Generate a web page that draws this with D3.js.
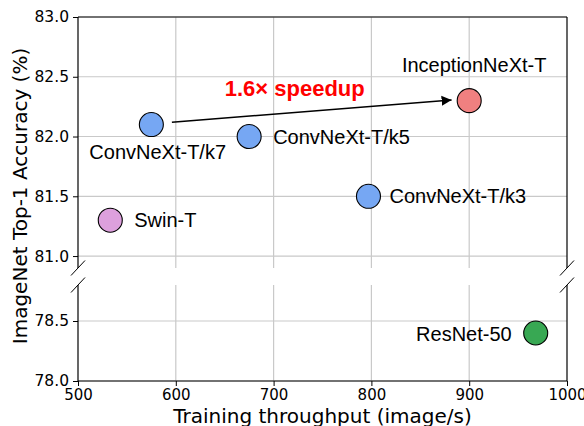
<!DOCTYPE html>
<html><head><meta charset="utf-8">
<script src="https://cdn.jsdelivr.net/npm/d3@7"></script>
<style>body{margin:0;background:#fff}svg{display:block}</style>
</head><body>
<svg id="c" width="584" height="426"></svg>
<script>
const models = ["ConvNeXt-T/k7","ConvNeXt-T/k5","ConvNeXt-T/k3","InceptionNeXt-T","Swin-T","ResNet-50"];
const throughput = [575, 675, 797, 900, 533, 968];
const accuracy = [82.1, 82.0, 81.5, 82.3, 81.3, 78.4];
const xTicks = [500, 600, 700, 800, 900, 1000];
const yTicksTop = [81.0, 81.5, 82.0, 82.5, 83.0];
const yTicksBottom = [78.0, 78.5];
const arrowFrom = [596, 82.12];
const arrowTo = [882, 82.305];
const speedupText = "1.6× speedup";
const speedupPos = [650, 82.34];

const colors = {"ConvNeXt-T/k7":"#76a7f3","ConvNeXt-T/k5":"#76a7f3","ConvNeXt-T/k3":"#76a7f3",
  "InceptionNeXt-T":"#f08080","Swin-T":"#dda0dd","ResNet-50":"#38a853"};
const labelPos = {
  "ConvNeXt-T/k7":{dx:-62,dy:34,anchor:"start"},
  "ConvNeXt-T/k5":{dx:24,dy:7,anchor:"start"},
  "ConvNeXt-T/k3":{dx:21,dy:7,anchor:"start"},
  "InceptionNeXt-T":{dx:5,dy:-29,anchor:"middle"},
  "Swin-T":{dx:24,dy:7,anchor:"start"},
  "ResNet-50":{dx:-24,dy:8,anchor:"end"}
};

const svg = d3.select("#c");
const L = 78, R = 567;
const x = d3.scaleLinear().domain([500,1000]).range([L,R]);
const yTop = d3.scaleLinear().domain([80.9,83.0]).range([268,17]);
const yBot = d3.scaleLinear().domain([78.0,78.8]).range([381,285]);
const tickFont = "DejaVu Sans", tickSize = "15px";
const gridColor = "#c9c9c9";

function panel(y, yTicks, y0, y1, showX){
  const g = svg.append("g");
  g.selectAll(".vg").data(xTicks.slice(1,-1)).enter().append("line")
    .attr("x1",d=>x(d)).attr("x2",d=>x(d)).attr("y1",y0).attr("y2",y1)
    .attr("stroke",gridColor).attr("stroke-width",1.2);
  g.selectAll(".hg").data(yTicks).enter().append("line")
    .attr("x1",L).attr("x2",R).attr("y1",d=>y(d)).attr("y2",d=>y(d))
    .attr("stroke",gridColor).attr("stroke-width",1.2);
  const ya = g.append("g").attr("transform",`translate(${L},0)`)
    .call(d3.axisLeft(y).tickValues(yTicks).tickFormat(d3.format(".1f")).tickSize(5).tickPadding(4));
  ya.select(".domain").remove();
  ya.selectAll("text").attr("font-family",tickFont).attr("font-size","15.5px").attr("fill","#000");
  ya.selectAll("line").attr("stroke","#000");
  if (showX){
    const xa = g.append("g").attr("transform",`translate(0,${y0})`)
      .call(d3.axisBottom(x).tickValues(xTicks).tickFormat(d3.format("d")).tickSize(5).tickPadding(3));
    xa.select(".domain").remove();
    xa.selectAll("text").attr("font-family",tickFont).attr("font-size",tickSize).attr("fill","#000");
    xa.selectAll("line").attr("stroke","#000");
  }
  g.append("line").attr("x1",L).attr("x2",L).attr("y1",y0).attr("y2",y1).attr("stroke","#000").attr("stroke-width",1.2);
  g.append("line").attr("x1",R).attr("x2",R).attr("y1",y0).attr("y2",y1).attr("stroke","#000").attr("stroke-width",1.2);
  return g;
}
panel(yTop, yTicksTop, 268, 17, false);
svg.append("line").attr("x1",L).attr("x2",R).attr("y1",17).attr("y2",17).attr("stroke","#000").attr("stroke-width",1.2);
panel(yBot, yTicksBottom, 381, 285, true);
svg.append("line").attr("x1",L).attr("x2",R).attr("y1",381).attr("y2",381).attr("stroke","#000").attr("stroke-width",1.2);

// break marks
[[L,268],[L,285],[R,268],[R,285]].forEach(([cx,cy])=>{
  svg.append("line").attr("x1",cx-7).attr("y1",cy+7.5).attr("x2",cx+7).attr("y2",cy-7.5)
    .attr("stroke","#000").attr("stroke-width",1);
});

// arrow
svg.append("defs").append("marker").attr("id","ah").attr("viewBox","0 0 10 10")
  .attr("refX",10).attr("refY",5).attr("markerWidth",10).attr("markerHeight",12)
  .attr("markerUnits","userSpaceOnUse").attr("orient","auto")
  .append("path").attr("d","M0,0 L10,5 L0,10 Z").attr("fill","#000");
svg.append("line").attr("x1",x(arrowFrom[0])).attr("y1",yTop(arrowFrom[1]))
  .attr("x2",x(arrowTo[0])).attr("y2",yTop(arrowTo[1]))
  .attr("stroke","#000").attr("stroke-width",1.6).attr("marker-end","url(#ah)");
svg.append("text").attr("x",x(speedupPos[0])).attr("y",yTop(speedupPos[1]))
  .attr("font-family","Liberation Sans").attr("font-weight","bold").attr("font-size","22px")
  .attr("fill","#ff0000").text(speedupText);

// points
const pts = models.map((m,i)=>({m, tx:throughput[i], acc:accuracy[i]}));
const py = d => d.acc >= 80 ? yTop(d.acc) : yBot(d.acc);
svg.selectAll(".pt").data(pts).enter().append("circle")
  .attr("cx",d=>x(d.tx)).attr("cy",py).attr("r",12)
  .attr("fill",d=>colors[d.m]).attr("stroke","#000").attr("stroke-width",1.1);
svg.selectAll(".lb").data(pts).enter().append("text")
  .attr("x",d=>x(d.tx)+labelPos[d.m].dx).attr("y",d=>py(d)+labelPos[d.m].dy)
  .attr("text-anchor",d=>labelPos[d.m].anchor)
  .attr("font-family","Liberation Sans").attr("font-size","20px").attr("fill","#000")
  .text(d=>d.m);

// axis labels
svg.append("text").attr("x",(L+R)/2).attr("y",423).attr("text-anchor","middle")
  .attr("font-family","DejaVu Sans").attr("font-size","20px").text("Training throughput (image/s)");
svg.append("text").attr("transform","translate(27,196) rotate(-90)").attr("text-anchor","middle")
  .attr("font-family","DejaVu Sans").attr("font-size","20px").text("ImageNet Top-1 Accuracy (%)");
</script>
</body></html>
